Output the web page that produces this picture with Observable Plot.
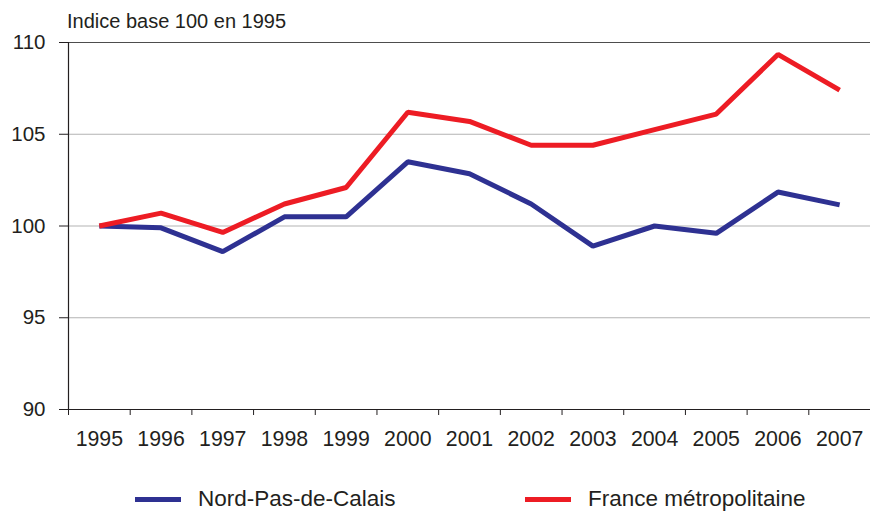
<!DOCTYPE html>
<html>
<head>
<meta charset="utf-8">
<script src="https://cdn.jsdelivr.net/npm/d3@7"></script>
<script src="https://cdn.jsdelivr.net/npm/@observablehq/plot@0.6"></script>
<style>
  html, body { margin: 0; padding: 0; background: #fff; }
  #wrap { position: relative; width: 870px; height: 513px; font-family: "Liberation Sans", Arial, sans-serif; color: #231f20; }
  #title { position: absolute; left: 67px; top: 10px; font-size: 20px; }
  #chart { position: absolute; left: 0; top: 0; }
  .leg { position: absolute; top: 486px; font-size: 22.5px; display: flex; align-items: center; white-space: nowrap; }
  .sw { display: inline-block; width: 46px; height: 5px; margin-right: 17px; }
</style>
</head>
<body>
<div id="wrap">
  <div id="chart"></div>
  <div id="title">Indice base 100 en 1995</div>
  <div class="leg" style="left:135px"><span class="sw" style="background:#2e3192"></span>Nord-Pas-de-Calais</div>
  <div class="leg" style="left:525px"><span class="sw" style="background:#ed1c24"></span>France métropolitaine</div>
</div>
<script>
const years = [1995, 1996, 1997, 1998, 1999, 2000, 2001, 2002, 2003, 2004, 2005, 2006, 2007];
const nord = [100, 99.9, 98.6, 100.5, 100.5, 103.5, 102.85, 101.2, 98.9, 100.0, 99.6, 101.85, 101.15];
const france = [100, 100.7, 99.65, 101.2, 102.1, 106.2, 105.7, 104.4, 104.4, 105.25, 106.1, 109.35, 107.4];
const yTicks = [90, 95, 100, 105, 110];
const series = ["Nord-Pas-de-Calais", "France métropolitaine"];
const colors = ["#2e3192", "#ed1c24"];

const data = [
  ...years.map((y, i) => ({year: y, value: nord[i], s: series[0]})),
  ...years.map((y, i) => ({year: y, value: france[i], s: series[1]}))
];
const bounds = years.map(y => y - 0.5);

const chart = Plot.plot({
  width: 870,
  height: 470,
  marginTop: 42,
  marginBottom: 61,
  marginLeft: 68,
  marginRight: 0,
  style: {fontFamily: "Liberation Sans, Arial, sans-serif", color: "#231f20", background: "transparent"},
  x: {domain: [1994.5, 2007.5]},
  y: {domain: [90, 110]},
  color: {domain: series, range: colors},
  marks: [
    Plot.ruleY([95, 100, 105], {stroke: "#b3b3b3", strokeWidth: 1.2}),
    Plot.ruleY([110], {stroke: "#4d4d4d", strokeWidth: 1.2}),
    Plot.ruleY([90], {stroke: "#231f20", strokeWidth: 1.2}),
    Plot.ruleX([1994.5], {stroke: "#231f20", strokeWidth: 1.2}),
    Plot.axisY({ticks: yTicks, tickSize: 9, tickPadding: 14, fontSize: 20.5, label: null, tickFormat: d => d, stroke: "#231f20"}),
    Plot.axisX({ticks: bounds, tickSize: 6, tickFormat: () => "", label: null, stroke: "#231f20"}),
    Plot.axisX({ticks: years, tickSize: 0, tickPadding: 21, fontSize: 21.3, label: null, tickFormat: d => String(d)}),
    Plot.line(data, {x: "year", y: "value", stroke: "s", z: "s", strokeWidth: 5, strokeLinejoin: "miter", strokeLinecap: "butt"})
  ]
});
document.getElementById("chart").appendChild(chart);
</script>
</body>
</html>
